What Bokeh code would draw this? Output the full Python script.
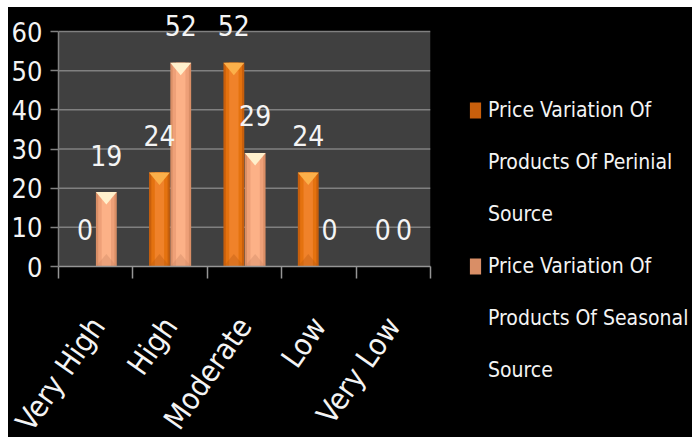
import numpy as np
from bokeh.plotting import figure
from bokeh.layouts import row, column
from bokeh.models import (ColumnDataSource, LabelSet, Legend, LegendItem, LinearAxis,
                          FixedTicker, Range1d, Spacer)
from bokeh.core.properties import value
from bokeh.embed import file_html
from bokeh.resources import INLINE

categories = ["Very High", "High", "Moderate", "Low", "Very Low"]
perinial = [0, 24, 52, 24, 0]
seasonal = [19, 52, 29, 0, 0]
y_ticks = [0, 10, 20, 30, 40, 50, 60]
series_names = [["Price Variation Of", "Products Of Perinial", "Source"],
                ["Price Variation Of", "Products Of Seasonal", "Source"]]

FONT = "DejaVu Sans Condensed"
TXT = "#f4f4f4"
GRIDC = "#808080"

n = len(categories)
centers = np.arange(n) + 0.5
OFF = 0.143
BW = 0.28
TRI = 3.2

# layout (pixels)
LEFT = 50
RIGHT = 262
FRAME_W = 372
FRAME_H = 259
PLOT_TOP_PX = 24          # gap between the frame top and the top tick
YMAX = y_ticks[-1] * FRAME_H / (FRAME_H - PLOT_TOP_PX)

p = figure(frame_width=FRAME_W, frame_height=FRAME_H,
           x_range=Range1d(0, n), y_range=Range1d(0, YMAX),
           output_backend="svg", toolbar_location=None,
           x_axis_location=None, y_axis_location=None,
           min_border_left=LEFT, min_border_right=RIGHT, min_border_top=0, min_border_bottom=0,
           background_fill_color=None, border_fill_color=None,
           outline_line_color=None)
p.styles = {"background-color": "#000000"}
p.grid.visible = False

# plot area and grid lines
p.quad(left=[0], right=[n], bottom=[y_ticks[0]], top=[y_ticks[-1]],
       fill_color="#404040", line_color=None)
p.segment(x0=[0] * (len(y_ticks) - 1), x1=[n] * (len(y_ticks) - 1),
          y0=y_ticks[1:], y1=y_ticks[1:], line_color=GRIDC, line_width=1.5)

# axes
yaxis = LinearAxis(ticker=FixedTicker(ticks=y_ticks), bounds=(y_ticks[0], y_ticks[-1]),
                   major_tick_out=8, major_tick_in=0,
                   minor_tick_out=0, minor_tick_in=0, axis_line_color=GRIDC, axis_line_width=1.5,
                   major_tick_line_color=GRIDC, major_tick_line_width=1.5,
                   major_label_standoff=8, major_label_text_color=TXT,
                   major_label_text_font=FONT, major_label_text_font_size="27px")
p.add_layout(yaxis, "left")

xtick_axis = LinearAxis(ticker=FixedTicker(ticks=list(range(n + 1))), bounds=(0, n),
                        major_label_overrides={i: "" for i in range(n + 1)},
                        major_tick_out=12, major_tick_in=0, minor_tick_out=0, minor_tick_in=0,
                        axis_line_color="#959595", axis_line_width=1.5,
                        major_tick_line_color="#959595", major_tick_line_width=1.5,
                        major_label_standoff=0, major_label_text_font_size="1px")
p.add_layout(xtick_axis, "below")

xlab_axis = LinearAxis(ticker=FixedTicker(ticks=list(centers)),
                       major_label_overrides={float(c): name for c, name in zip(centers, categories)},
                       major_tick_out=0, major_tick_in=0, minor_tick_out=0, minor_tick_in=0,
                       axis_line_color=None, major_label_orientation=0.96,
                       major_label_standoff=42, major_label_text_color=TXT,
                       major_label_text_font=FONT, major_label_text_font_size="30px")
p.add_layout(xlab_axis, "below")

STYLE_P = dict(edge="#c85f0c", mid="#e4720f", main="#f0822a", tri="#fbb04a", bot="#b85a10")
STYLE_S = dict(edge="#d98e66", mid="#eea078", main="#fcb187", tri="#fff0cc", bot="#c98560")


def draw_series(xc, vals, st):
    src = ColumnDataSource(dict(x=xc, top=vals))
    r = p.vbar(x="x", top="top", bottom=0, width=BW, source=src, fill_color=st["edge"],
               line_color=None)
    p.vbar(x="x", top="top", bottom=0, width=BW * 0.78, source=src, fill_color=st["mid"],
           line_color=None)
    p.vbar(x="x", top="top", bottom=0, width=BW * 0.45, source=src, fill_color=st["main"],
           line_color=None)
    xs, ys, bxs, bys = [], [], [], []
    for c, v in zip(xc, vals):
        if v > 0:
            xs.append([c - BW / 2, c + BW / 2, c])
            ys.append([v, v, v - TRI])
            if v > 2 * TRI:
                bxs.append([c - BW / 2, c + BW / 2, c])
                bys.append([0, 0, TRI])
    p.patches(xs=xs, ys=ys, fill_color=st["tri"], line_color=None)
    p.patches(xs=bxs, ys=bys, fill_color=st["bot"], fill_alpha=0.35, line_color=None)
    lab = ColumnDataSource(dict(x=xc, y=vals, t=[str(v) for v in vals]))
    p.add_layout(LabelSet(x="x", y="y", text="t", source=lab, y_offset=37,
                          text_align="center", text_baseline="middle", text_color=TXT,
                          text_font=value(FONT), text_font_size=value("28px")))
    return r


r_p = draw_series(list(centers - OFF), perinial, STYLE_P)
r_s = draw_series(list(centers + OFF), seasonal, STYLE_S)

# legend: one item per text line, key shown on the first line of each series
ITEM_H = 30
PITCH = 52.4
LEG_TOP = 86          # legend top, pixels from the figure top
items = []
for r, names in zip((r_p, r_s), series_names):
    items.append(LegendItem(label=names[0], renderers=[r]))
    items += [LegendItem(label=t, renderers=[]) for t in names[1:]]
leg_h = len(items) * ITEM_H + (len(items) - 1) * (PITCH - ITEM_H)
legend = Legend(items=items, location=(38, FRAME_H - (LEG_TOP + leg_h)), orientation="vertical",
                background_fill_alpha=0, border_line_color=None,
                padding=0, margin=0, spacing=int(round(PITCH - ITEM_H)),
                glyph_width=14, glyph_height=20, label_height=ITEM_H, label_standoff=6,
                label_text_color=TXT, label_text_font=FONT, label_text_font_size="21px",
                label_text_baseline="middle")
p.add_layout(legend, "right")

layout = column(Spacer(width=692, height=7),
                row(Spacer(width=8, height=440), p, spacing=0),
                spacing=0)
open("out.html", "w").write(file_html(layout, INLINE))
